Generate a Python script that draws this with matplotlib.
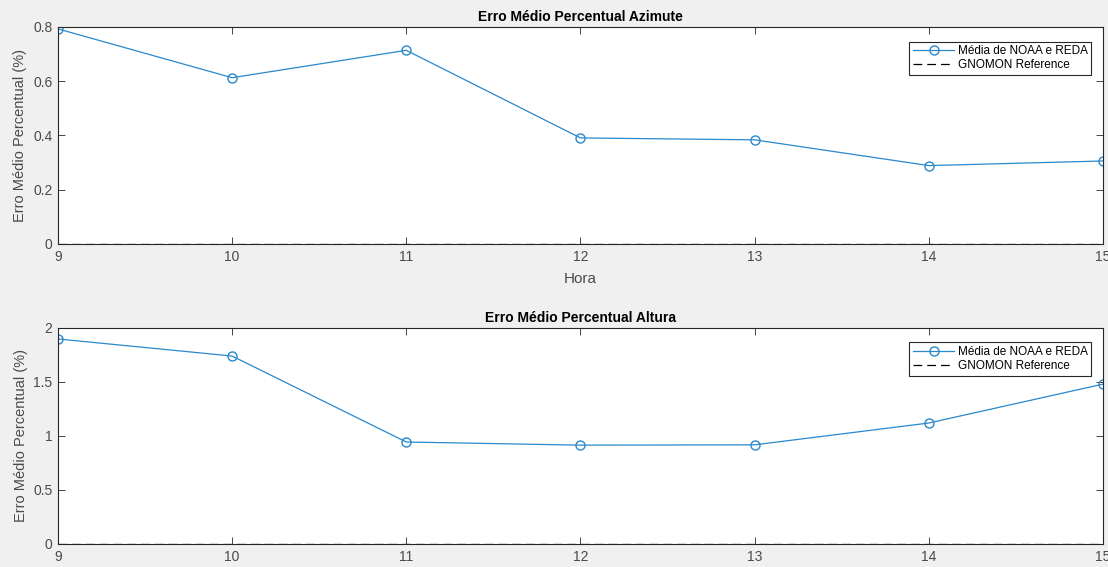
import matplotlib.pyplot as plt

plt.rcParams['font.family'] = ['Liberation Sans', 'DejaVu Sans']

horas = [9, 10, 11, 12, 13, 14, 15]
erro_azimute = [0.793, 0.613, 0.714, 0.391, 0.384, 0.289, 0.306]
erro_altura = [1.898, 1.740, 0.944, 0.915, 0.918, 1.120, 1.480]
referencia = [0, 0, 0, 0, 0, 0, 0]

azul = '#2a88cc'
cinza = '#262626'
texto = '#4a4a4a'

fig = plt.figure(figsize=(11.08, 5.67), dpi=100, facecolor='#f0f0f0')

def painel(pos, y, titulo, yticks, ylim, xlabel=None):
    ax = fig.add_axes(pos)
    ax.plot(horas, y, '-o', color=azul, lw=0.9, ms=6.5, mfc='none', mew=1.0,
            label='Média de NOAA e REDA')
    ax.plot(horas, referencia, '--', color='black', lw=0.9, dashes=(7, 4),
            label='GNOMON Reference')
    ax.set_xlim(9, 15)
    ax.set_ylim(*ylim)
    ax.set_xticks(horas)
    ax.set_yticks(yticks)
    ax.set_yticklabels([('%g' % v) for v in yticks])
    ax.tick_params(direction='in', top=True, right=True, labelsize=10,
                   labelcolor=texto, color=cinza, length=5, width=0.6, pad=4)
    for s in ax.spines.values():
        s.set_color(cinza)
        s.set_linewidth(0.8)
    ax.set_title(titulo, fontsize=10, fontweight='bold', color='black', pad=4)
    ax.set_ylabel('Erro Médio Percentual (%)', fontsize=10.5, color=texto, labelpad=4)
    if xlabel:
        ax.set_xlabel(xlabel, fontsize=11, color=texto, labelpad=6)
    leg = ax.legend(loc='upper right', fontsize=8.5, fancybox=False, framealpha=1,
                    edgecolor=cinza, borderpad=0.3, handlelength=3.5,
                    handletextpad=0.3, labelspacing=0.2,
                    bbox_to_anchor=(0.9945, 0.96))
    leg.get_frame().set_linewidth(0.8)
    return ax

painel([0.0523, 0.5697, 0.9432, 0.3827], erro_azimute,
       'Erro Médio Percentual Azimute', [0, 0.2, 0.4, 0.6, 0.8], (0, 0.8), 'Hora')
painel([0.0523, 0.0406, 0.9432, 0.3810], erro_altura,
       'Erro Médio Percentual Altura', [0, 0.5, 1, 1.5, 2], (0, 2))

fig.savefig('out.png', dpi=100, facecolor=fig.get_facecolor())
